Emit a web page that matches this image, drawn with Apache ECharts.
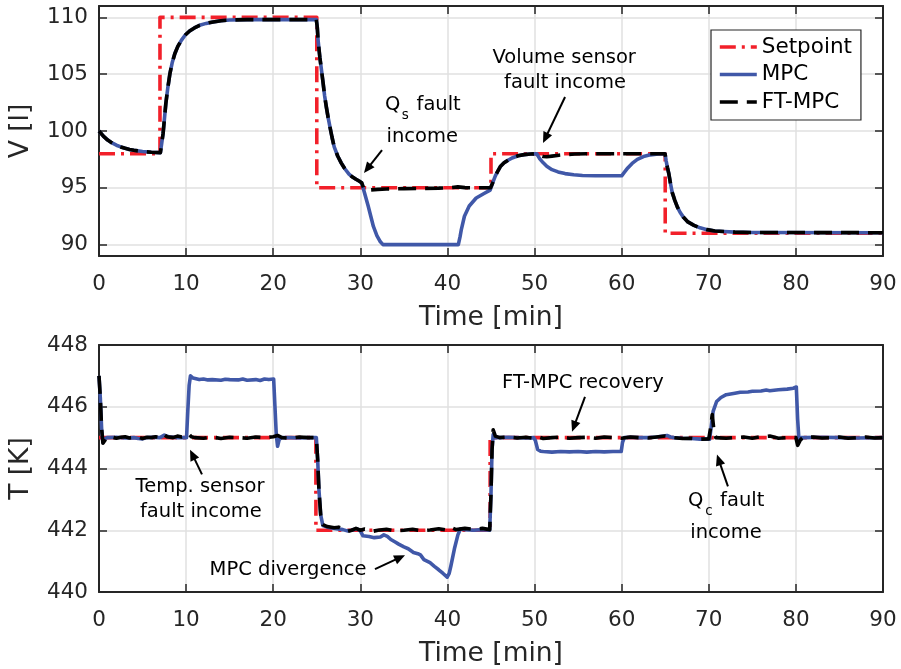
<!DOCTYPE html>
<html>
<head>
<meta charset="utf-8">
<script src="https://cdn.jsdelivr.net/npm/echarts@6/dist/echarts.min.js"></script>
<style>html,body{margin:0;padding:0;background:#fff}#c{width:901px;height:669px}</style>
</head>
<body>
<div id="c"></div>
<script>
// ---------------- DATA ----------------
const xTicks = [0, 10, 20, 30, 40, 50, 60, 70, 80, 90];
const vTicks = [90, 95, 100, 105, 110];
const tTicks = [440, 442, 444, 446, 448];
const seriesNames = ['Setpoint', 'MPC', 'FT-MPC'];

// Volume [l] vs time [min]
const vSetpoint = [[0,98],[7,98],[7,110],[25,110],[25,95],[45,95],[45,98],[65,98],[65,91],[90,91]];
const vFTMPC = [
[0,100],[0.5,99.55],[1,99.2],[1.5,98.95],[2,98.75],[2.5,98.6],[3,98.48],[3.5,98.38],[4,98.3],[5,98.2],[6,98.13],[7.05,98.1],
[7.36,99.8],[7.67,102.4],[7.9,103.8],[8.13,105.0],[8.4,106.0],[8.7,106.8],[9.05,107.45],[9.47,108.0],[9.9,108.45],[10.4,108.8],[10.95,109.07],[11.55,109.3],[12.3,109.47],[13.1,109.6],[14,109.7],[15,109.77],[17,109.8],[24.95,109.8],
[25.06,109.1],[25.15,108.0],[25.35,106.5],[25.55,105.3],[25.73,104.2],[25.9,103.1],[26.1,102.1],[26.3,101.2],[26.5,100.4],[26.75,99.45],[27.0,98.6],[27.4,97.8],[27.8,97.2],[28.2,96.7],[28.7,96.2],[29.1,95.95],[29.5,95.75],[29.85,95.6],[30.15,95.45],
[30.4,94.95],[30.7,94.8],[31.2,94.82],[32,94.86],[33,94.9],[35,94.93],[37,94.95],[39,94.97],[40.5,95.02],[41.2,95.08],[42,95.02],[43,95.0],[44.95,95.0],
[45.2,95.45],[45.5,96.05],[45.8,96.5],[46.1,96.9],[46.5,97.2],[47,97.45],[47.5,97.65],[48.1,97.82],[48.8,97.92],[49.55,97.97],[50.25,98.0],
[50.6,97.85],[51,97.76],[51.4,97.74],[52,97.79],[52.8,97.87],[53.6,97.93],[54.6,97.97],[56,98.0],[64.98,98.0],
[65.1,97.4],[65.25,96.8],[65.4,96.3],[65.6,95.4],[65.8,94.6],[66.1,93.9],[66.4,93.3],[66.7,92.85],[67.1,92.4],[67.6,92.0],[68.3,91.7],[69,91.48],[69.8,91.32],[70.7,91.2],[71.7,91.15],[73,91.1],[75,91.07],[90,91.05]
];
const vMPC = [
[0,100],[0.5,99.55],[1,99.2],[1.5,98.95],[2,98.75],[2.5,98.6],[3,98.48],[3.5,98.38],[4,98.3],[5,98.2],[6,98.13],[7.05,98.1],
[7.36,99.8],[7.67,102.4],[7.9,103.8],[8.13,105.0],[8.4,106.0],[8.7,106.8],[9.05,107.45],[9.47,108.0],[9.9,108.45],[10.4,108.8],[10.95,109.07],[11.55,109.3],[12.3,109.47],[13.1,109.6],[14,109.7],[15,109.77],[17,109.8],[24.95,109.8],
[25.06,109.1],[25.15,108.0],[25.35,106.5],[25.55,105.3],[25.73,104.2],[25.9,103.1],[26.1,102.1],[26.3,101.2],[26.5,100.4],[26.75,99.45],[27.0,98.6],[27.4,97.8],[27.8,97.2],[28.2,96.7],[28.7,96.2],[29.1,95.95],[29.5,95.75],[29.85,95.6],[30.15,95.45],
[30.5,94.5],[30.9,93.4],[31.2,92.5],[31.5,91.6],[31.9,90.8],[32.3,90.25],[32.6,90.0],[41.25,90.0],[41.45,90.7],[41.6,91.35],[41.95,92.5],[42.5,93.4],[43.3,94.1],[44.2,94.5],[44.9,94.8],
[45.2,95.45],[45.5,96.05],[45.8,96.5],[46.1,96.9],[46.5,97.2],[47,97.45],[47.5,97.65],[48.1,97.82],[48.8,97.92],[49.55,97.97],[50.25,98.0],
[50.6,97.55],[51,97.2],[51.4,96.9],[52,96.6],[52.7,96.4],[53.5,96.25],[54.5,96.15],[55.5,96.09],[57,96.06],[60,96.06],[60.3,96.35],[60.7,96.75],[61.2,97.15],[61.8,97.5],[62.5,97.75],[63.3,97.9],[64.2,97.97],[64.98,98.0],
[65.1,97.4],[65.25,96.8],[65.4,96.3],[65.6,95.4],[65.8,94.6],[66.1,93.9],[66.4,93.3],[66.7,92.85],[67.1,92.4],[67.6,92.0],[68.3,91.7],[69,91.48],[69.8,91.32],[70.7,91.2],[71.7,91.15],[73,91.1],[75,91.07],[90,91.05]
];

// Temperature [K] vs time [min]
const tSetpoint = [[0,445],[24.9,445],[24.9,442],[44.9,442],[44.9,445],[90,445]];
const tFTMPC = [
[0,447.0],[0.15,446.3],[0.3,445.3],[0.45,444.82],[0.65,444.9],[0.9,445.0],[1.5,445.02],[2,444.98],[2.5,445.01],[3,445.03],[3.5,444.99],[4,445.0],[4.5,445.02],[5,444.97],[5.5,445.01],[6,445.0],[6.5,445.03],[7,445.01],[7.4,445.11],[7.8,445.03],[8.5,445.0],[9,445.05],[9.5,445.02],[10,445.05],[10.3,445.12],[10.6,445.03],[11,445.0],[12,444.98],[13,445.02],[14,444.97],[15,445.01],[16,445.0],[17,444.98],[18,445.02],[19,445.0],[20,445.03],[20.5,445.07],[21,445.0],[22,444.98],[23,445.02],[24,445.0],[24.95,445.0],
[25.1,444.3],[25.25,443.3],[25.45,442.5],[25.7,442.18],[26.2,442.12],[27,442.08],[27.5,442.1],[28,442.04],[28.5,441.96],[29,442.0],[29.5,442.06],[30,442.0],[30.5,442.04],[31,442.02],[31.5,441.97],[32,442.0],[33,442.03],[34,441.98],[35,442.0],[36,442.03],[37,441.98],[38,442.01],[39,442.05],[40,442.0],[40.5,442.08],[41,442.02],[42,442.06],[43,442.03],[44,442.06],[44.85,442.02],
[45.0,443.2],[45.12,444.6],[45.25,445.25],[45.5,445.05],[46,445.0],[47,445.02],[48,444.99],[49,445.01],[50,444.98],[50.5,445.02],[51,444.97],[52,445.0],[53,445.02],[54,444.98],[55,445.0],[56,445.01],[57,444.98],[58,445.02],[59,445.0],[60,444.98],[61,445.02],[62,445.0],[63,444.99],[64,445.02],[65,445.05],[66,445.0],[67,444.97],[68,444.98],[69,444.95],[70,444.96],
[70.2,445.3],[70.4,445.75],[70.6,445.2],[70.8,445.0],[71,445.03],[72,444.98],[73,445.0],[74,445.02],[75,444.98],[76,445.03],[77,445.05],[78,444.98],[79,445.0],[80,445.0],[80.2,444.75],[80.5,444.92],[80.8,445.0],[82,445.02],[83,444.99],[84,445.0],[85,445.02],[86,444.98],[87,445.0],[88,445.02],[89,444.99],[90,445.0]
];
const tMPC = [
[0,447.0],[0.15,446.3],[0.3,445.3],[0.45,444.85],[0.65,444.95],[0.9,445.0],[2,445.01],[3,444.99],[4,445.0],[4.5,444.97],[5,444.96],[5.5,445.0],[6,445.01],[7,445.0],[7.5,445.08],[8,445.03],[9,445.0],[10.05,445.0],
[10.2,445.9],[10.35,446.7],[10.5,447.0],[10.8,446.93],[11.5,446.88],[12,446.9],[12.5,446.87],[13,446.88],[14,446.86],[14.5,446.89],[15,446.88],[16,446.87],[16.5,446.9],[17,446.86],[18,446.88],[18.5,446.85],[19,446.9],[19.5,446.88],[20.05,446.9],
[20.2,446.0],[20.35,445.1],[20.5,444.72],[20.7,444.95],[21,445.0],[22,445.0],[23,444.99],[24,445.0],[24.95,445.0],
[25.1,444.3],[25.25,443.3],[25.45,442.5],[25.7,442.15],[26.2,442.1],[27,442.06],[28,442.02],[28.5,441.98],[29,442.0],[29.6,442.05],[30.0,441.98],
[30.3,441.82],[31,441.8],[31.6,441.76],[32.3,441.78],[32.7,441.85],[33.1,441.8],[33.5,441.7],[34,441.62],[34.4,441.55],[35,441.46],[35.5,441.4],[36.1,441.28],[36.6,441.24],[36.9,441.2],[37.3,441.05],[38,440.95],[38.5,440.83],[39,440.72],[39.5,440.6],[39.97,440.48],
[40.2,440.6],[40.4,440.85],[40.8,441.4],[41.2,441.85],[41.5,442.05],[42,442.02],[43,442.0],[44,442.02],[44.85,442.0],
[45.0,443.2],[45.12,444.6],[45.25,445.1],[45.5,445.0],[46,445.0],[47,445.01],[48,445.0],[49,444.99],[49.9,445.0],
[50.1,444.9],[50.35,444.62],[50.7,444.56],[51,444.55],[52,444.53],[53,444.55],[54,444.54],[55,444.55],[56,444.53],[57,444.55],[58,444.54],[59,444.55],[59.95,444.55],
[60.1,444.85],[60.3,445.0],[61,445.01],[62,445.0],[63,445.0],[64,445.02],[65.2,445.07],[65.6,445.02],[66,445.0],[67,444.98],[68,444.97],[69,444.95],[70.1,444.95],
[70.3,445.4],[70.5,445.85],[70.9,446.17],[71.4,446.3],[72,446.39],[73,446.44],[73.6,446.47],[74.5,446.48],[75,446.5],[76,446.51],[76.6,446.54],[77,446.52],[78,446.55],[79,446.57],[79.7,446.6],[80.05,446.64],
[80.2,445.6],[80.35,444.95],[80.6,445.0],[81,445.0],[83,445.01],[85,445.0],[87,444.99],[90,445.0]
];

// Annotations in data coordinates: [panel, t, value]
const annoTexts = [
  {panel:0, at:[32.83,102.29], text:'Q', align:'left'},
  {panel:0, at:[34.75,101.35], text:'s', align:'left', sub:true},
  {panel:0, at:[36.45,102.29], text:'fault', align:'left'},
  {panel:0, at:[37.1,99.47], text:'income', align:'center'},
  {panel:0, at:[53.4,106.42], text:'Volume sensor', align:'center'},
  {panel:0, at:[53.5,104.22], text:'fault income', align:'center'},
  {panel:1, at:[11.6,443.39], text:'Temp. sensor', align:'center'},
  {panel:1, at:[11.7,442.58], text:'fault income', align:'center'},
  {panel:1, at:[21.7,440.71], text:'MPC divergence', align:'center'},
  {panel:1, at:[55.55,446.77], text:'FT-MPC recovery', align:'center'},
  {panel:1, at:[67.62,442.94], text:'Q', align:'left'},
  {panel:1, at:[69.6,442.6], text:'c', align:'left', sub:true},
  {panel:1, at:[71.3,442.94], text:'fault', align:'left'},
  {panel:1, at:[71.98,441.9], text:'income', align:'center'}
];
const annoArrows = [
  {panel:0, from:[32.49,98.32], to:[30.42,96.3]},
  {panel:0, from:[53.5,102.99], to:[50.97,98.94]},
  {panel:1, from:[11.82,443.81], to:[10.45,444.61]},
  {panel:1, from:[31.68,440.74], to:[35.13,441.19]},
  {panel:1, from:[55.79,446.32], to:[54.3,445.19]},
  {panel:1, from:[72.2,443.42], to:[70.94,444.45]}
];

// ---------------- STYLE ----------------
const FONT = 'DejaVu Sans';
const C_RED = '#f2202a', C_BLUE = '#4058a8', C_BLACK = '#000000';
const AX = '#262626', GRIDC = '#e0e0e0';
const LW = 3.6;

function mainX(gi) {
  return {
    type:'value', gridIndex:gi, min:0, max:90, interval:10, position:'bottom',
    name: 'Time [min]', nameLocation:'middle', nameGap:49,
    nameTextStyle:{fontFamily:FONT, fontSize:26.5, color:AX},
    axisLine:{show:true, onZero:false, lineStyle:{color:AX, width:2}},
    axisTick:{show:true, inside:true, length:8, lineStyle:{color:AX, width:1.5}},
    axisLabel:{show:true, margin:17, fontFamily:FONT, fontSize:21.5, color:AX},
    splitLine:{show:true, lineStyle:{color:GRIDC, width:1.5}}
  };
}
function topX(gi) {
  return {
    type:'value', gridIndex:gi, min:0, max:90, interval:10, position:'top',
    axisLine:{show:true, onZero:false, lineStyle:{color:AX, width:2}},
    axisTick:{show:true, inside:true, length:8, lineStyle:{color:AX, width:1.5}},
    axisLabel:{show:false}, splitLine:{show:false}
  };
}
function leftY(gi, name, min, max, ticks) {
  return {
    type:'value', gridIndex:gi, min:min, max:max, position:'left',
    name:name, nameLocation:'middle', nameGap:64, nameRotate:90,
    nameTextStyle:{fontFamily:FONT, fontSize:26.5, color:AX},
    axisLine:{show:true, onZero:false, lineStyle:{color:AX, width:2}},
    axisTick:{show:true, inside:true, length:8, lineStyle:{color:AX, width:1.5}, customValues:ticks},
    axisLabel:{show:true, margin:11, fontFamily:FONT, fontSize:21.5, color:AX, customValues:ticks},
    splitLine:{show:true, lineStyle:{color:GRIDC, width:1.5}}
  };
}
function rightY(gi, min, max, ticks) {
  return {
    type:'value', gridIndex:gi, min:min, max:max, position:'right',
    axisLine:{show:true, onZero:false, lineStyle:{color:AX, width:2}},
    axisTick:{show:true, inside:true, length:8, lineStyle:{color:AX, width:1.5}, customValues:ticks},
    axisLabel:{show:false, customValues:ticks}, splitLine:{show:false}
  };
}
function line(name, data, xi, yi, color, dash, z) {
  return {
    type:'line', name:name, data:data, xAxisIndex:xi, yAxisIndex:yi,
    symbol:'none', showSymbol:false, smooth:false, z:z, clip:true,
    lineStyle:{color:color, width:LW, type:dash, cap:'butt', join:'round'},
    itemStyle:{color:color}, emphasis:{disabled:true}
  };
}
const DASHDOT = [16,6,3,6];
const DASH = [18,9];

const option = {
  animation:false,
  backgroundColor:'#ffffff',
  grid:[
    {left:99, right:18, top:6, height:250},
    {left:99, right:18, top:345, height:248}
  ],
  xAxis:[mainX(0), topX(0), mainX(1), topX(1)],
  yAxis:[leftY(0,'V [l]',89,111,vTicks), rightY(0,89,111,vTicks), leftY(1,'T [K]',440,448,tTicks), rightY(1,440,448,tTicks)],
  legend:{
    data:seriesNames, orient:'vertical', left:711, top:30,
    padding:[4,9,5,7], itemGap:1.5, itemWidth:37, itemHeight:14,
    backgroundColor:'#fff', borderColor:AX, borderWidth:1.2, borderRadius:0,
    itemStyle:{opacity:0},
    lineStyle:{width:3.6},
    textStyle:{fontFamily:FONT, fontSize:21.5, color:'#000', lineHeight:26},
    selectedMode:false
  },
  series:[
    line('Setpoint', vSetpoint, 0, 0, C_RED, DASHDOT, 2),
    line('MPC', vMPC, 0, 0, C_BLUE, 'solid', 3),
    line('FT-MPC', vFTMPC, 0, 0, C_BLACK, DASH, 4),
    line('Setpoint', tSetpoint, 2, 2, C_RED, DASHDOT, 2),
    line('MPC', tMPC, 2, 2, C_BLUE, 'solid', 3),
    line('FT-MPC', tFTMPC, 2, 2, C_BLACK, DASH, 4)
  ]
};

const chart = echarts.init(document.getElementById('c'), null, {renderer:'canvas'});
chart.setOption(option);

// annotations positioned through the axes
function toPx(panel, p) { return chart.convertToPixel({seriesIndex: panel === 0 ? 0 : 3}, p); }
const g = [];
annoTexts.forEach(a => {
  const p = toPx(a.panel, a.at);
  g.push({type:'text', x:p[0], y:p[1], z:100,
    style:{text:a.text, fontFamily:FONT, fontSize:a.sub ? 13.5 : 19.5, fill:'#000', align:a.align, verticalAlign:'middle'}});
});
annoArrows.forEach(a => {
  const s = toPx(a.panel, a.from), e = toPx(a.panel, a.to);
  const dx = e[0]-s[0], dy = e[1]-s[1], L = Math.hypot(dx,dy), ux = dx/L, uy = dy/L;
  const hl = 11, hw = 4.8;
  const bx = e[0]-ux*hl, by = e[1]-uy*hl;
  g.push({type:'line', z:100, shape:{x1:s[0], y1:s[1], x2:bx+ux*1, y2:by+uy*1}, style:{stroke:'#000', lineWidth:2}});
  g.push({type:'polygon', z:100, shape:{points:[[e[0],e[1]],[bx-uy*hw, by+ux*hw],[bx+uy*hw, by-ux*hw]]}, style:{fill:'#000'}});
});
chart.setOption({graphic:g});
</script>
</body>
</html>
